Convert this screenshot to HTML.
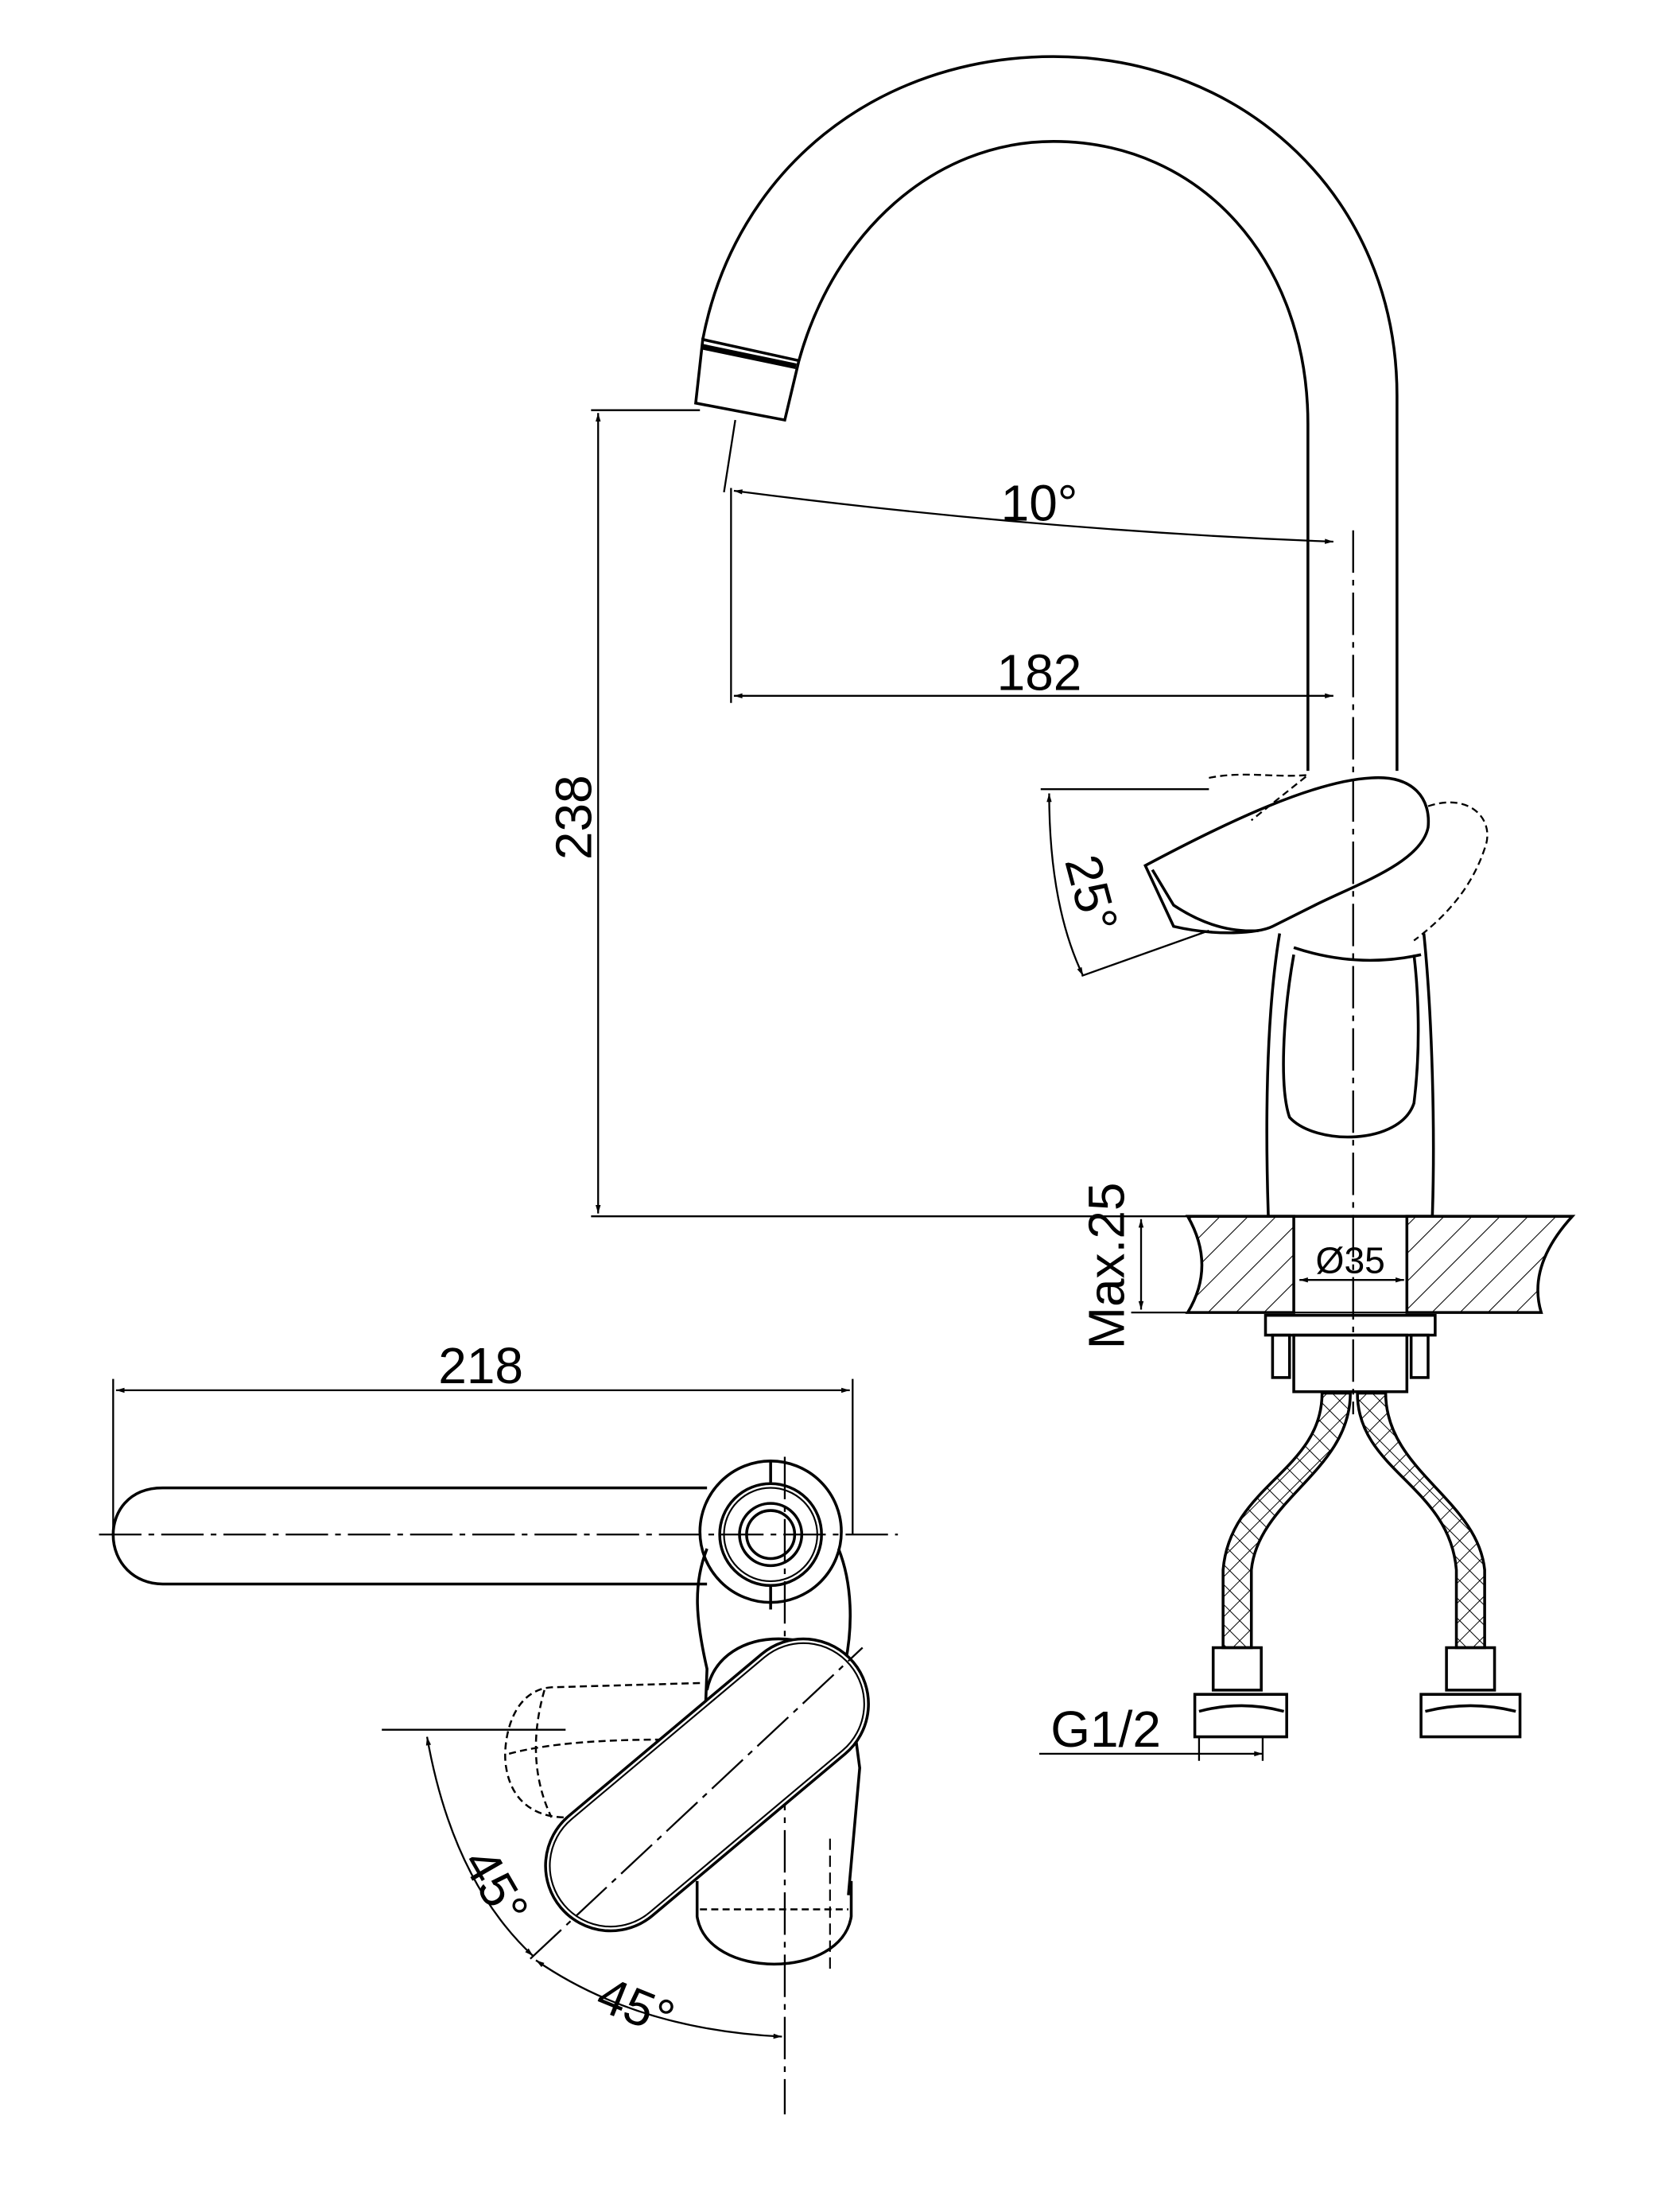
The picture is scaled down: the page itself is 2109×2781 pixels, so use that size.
<!DOCTYPE html>
<html><head><meta charset="utf-8"><style>html,body{margin:0;padding:0;background:#fff}svg{display:block}</style></head><body>
<svg width="2109" height="2781" viewBox="0 0 1186 1564" xmlns="http://www.w3.org/2000/svg" font-family="Liberation Sans, sans-serif">
<defs>
<pattern id="h" width="14" height="14" patternUnits="userSpaceOnUse" patternTransform="rotate(45)"><line x1="0" y1="0" x2="0" y2="14" stroke="#000" stroke-width="1.2"/></pattern>
<pattern id="x" width="10" height="10" patternUnits="userSpaceOnUse" patternTransform="rotate(45)"><path d="M0 0V10M0 0H10" stroke="#000" stroke-width="1.1"/></pattern>
<marker id="a" viewBox="0 0 10 10" refX="10" refY="5" markerWidth="10" markerHeight="6" orient="auto-start-reverse" markerUnits="userSpaceOnUse"><path d="M0 2L10 5L0 8z"/></marker>
</defs>
<g fill="none" stroke="#000" stroke-width="2">
<path d="M497 240 C520 120 620 40 745 40 C880 40 988 140 988 280 L988 545"/>
<path d="M565 255 C590 165 660 100 745 100 C850 100 925 185 925 300 L925 545"/>
<path d="M497 240 L565 255 L555 297 L492 285 Z"/>
<line x1="496" y1="245" x2="563" y2="259" stroke-width="4"/>
<g stroke-width="1.3">
<line x1="418" y1="290" x2="495" y2="290"/>
<line x1="418" y1="860" x2="840" y2="860"/>
<line x1="423" y1="292" x2="423" y2="858" marker-start="url(#a)" marker-end="url(#a)"/>
<line x1="520" y1="297" x2="512" y2="348"/>
<line x1="517" y1="345" x2="517" y2="497"/>
<path d="M519 347 Q735 375 943 383" marker-start="url(#a)" marker-end="url(#a)"/>
<line x1="519" y1="492" x2="943" y2="492" marker-start="url(#a)" marker-end="url(#a)"/>
<line x1="957" y1="375" x2="957" y2="1000" stroke-dasharray="30 5 4 5"/>
<line x1="736" y1="558" x2="855" y2="558"/>
<line x1="765" y1="690" x2="855" y2="658"/>
<path d="M742 561 Q742 640 766 690" marker-start="url(#a)" marker-end="url(#a)"/>
</g>
<path d="M905 660 C895 720 895 800 897 860 L1013 860 C1015 800 1013 720 1007 660"/>
<path d="M915 675 C907 720 905 770 912 790 C930 810 990 810 1000 780 C1005 740 1003 700 1000 675"/>
<path d="M915 670 Q960 685 1005 675"/>
<path d="M810 612 C870 580 930 552 970 550 C1000 548 1012 565 1010 585 C1005 610 960 625 930 640 L900 655 C890 660 860 662 830 655 Z"/>
<path d="M815 615 L830 640 Q860 660 890 658"/>
<path d="M1010 570 C1040 560 1058 580 1050 600 C1040 630 1020 650 1000 665" stroke-dasharray="5 3" stroke-width="1.3"/>
<path d="M855 550 C880 545 900 550 925 548 L885 580" stroke-dasharray="5 3" stroke-width="1.3"/>
<path d="M840 860 L915 860 L915 928 L840 928 Q860 895 840 860 Z" fill="url(#h)"/>
<path d="M995 860 L1112 860 Q1080 895 1090 928 L995 928 Z" fill="url(#h)"/>
<line x1="800" y1="928" x2="1090" y2="928" stroke-width="1.3"/>
<line x1="919" y1="905" x2="993" y2="905" stroke-width="1.3" marker-start="url(#a)" marker-end="url(#a)"/>
<line x1="807" y1="862" x2="807" y2="926" stroke-width="1.3" marker-start="url(#a)" marker-end="url(#a)"/>
<rect x="895" y="930" width="120" height="14"/>
<rect x="915" y="944" width="80" height="40"/>
<rect x="900" y="944" width="12" height="30"/><rect x="998" y="944" width="12" height="30"/>
<path d="M935 985 C935 1040 870 1050 865 1110 L865 1165 L885 1165 L885 1110 C890 1060 955 1040 955 985 Z" fill="url(#x)"/>
<path d="M960 985 C960 1040 1025 1050 1030 1110 L1030 1165 L1050 1165 L1050 1110 C1045 1060 980 1040 980 985 Z" fill="url(#x)"/>
<rect x="858" y="1165" width="34" height="30"/><rect x="1023" y="1165" width="34" height="30"/>
<path d="M845 1198 h65 v30 h-65 z M1005 1198 h70 v30 h-70 z"/>
<path d="M848 1210 q30 -8 60 0 M1008 1210 q32 -8 64 0"/>
<g stroke-width="1.3">
<line x1="735" y1="1240" x2="893" y2="1240" marker-end="url(#a)"/>
<line x1="848" y1="1228" x2="848" y2="1245"/><line x1="893" y1="1228" x2="893" y2="1245"/>
</g>
<g stroke-width="1.3">
<line x1="80" y1="975" x2="80" y2="1085"/><line x1="603" y1="975" x2="603" y2="1085"/>
<line x1="82" y1="983" x2="601" y2="983" marker-start="url(#a)" marker-end="url(#a)"/>
<line x1="70" y1="1085" x2="635" y2="1085" stroke-dasharray="30 5 4 5"/>
<line x1="555" y1="1030" x2="555" y2="1495" stroke-dasharray="30 5 4 5"/>
<line x1="270" y1="1223" x2="400" y2="1223"/>
<path d="M302 1228 Q320 1330 377 1383" marker-start="url(#a)" marker-end="url(#a)"/>
<path d="M379 1386 Q450 1435 553 1440" marker-start="url(#a)" marker-end="url(#a)"/>
</g>
<path d="M500 1052 L115 1052 C90 1052 80 1070 80 1085 C80 1105 95 1120 115 1120 L500 1120"/>
<circle cx="545" cy="1083" r="50"/>
<circle cx="545" cy="1085" r="36"/><circle cx="545" cy="1085" r="33" stroke-width="1.2"/>
<circle cx="545" cy="1085" r="22"/><circle cx="545" cy="1085" r="17"/>
<line x1="545" y1="1033" x2="545" y2="1048"/><line x1="545" y1="1120" x2="545" y2="1138"/>
<path d="M500 1095 C490 1120 492 1145 500 1180 L495 1310"/>
<path d="M593 1095 C603 1120 603 1150 598 1175 L608 1250 L600 1340"/>
<path d="M500 1195 C510 1145 590 1150 605 1190"/>
<path d="M493 1330 L493 1355 C500 1400 595 1400 602 1355 L602 1330"/>
<line x1="495" y1="1350" x2="600" y2="1350" stroke-dasharray="5 3" stroke-width="1.4"/>
<line x1="587" y1="1300" x2="587" y2="1395" stroke-dasharray="8 4" stroke-width="1.2"/>
<path d="M495 1190 L390 1193 C360 1195 355 1235 358 1250 C362 1275 380 1285 400 1285 L450 1283" stroke-dasharray="5 3" stroke-width="1.4"/>
<path d="M385 1195 C375 1230 378 1260 390 1285 M360 1240 C390 1232 430 1230 470 1230" stroke-dasharray="5 3" stroke-width="1.4"/>
<rect x="365" y="1216" width="270" height="92" rx="46" transform="rotate(-40 500 1262)" fill="#fff"/>
<rect x="368" y="1219" width="264" height="86" rx="43" transform="rotate(-40 500 1262)" stroke-width="1.2"/>
<line x1="375" y1="1385" x2="610" y2="1165" stroke-dasharray="30 5 4 5" stroke-width="1.3"/>
</g>
<g font-size="36" fill="#000">
<text x="735" y="368" text-anchor="middle">10°</text>
<text x="735" y="488" text-anchor="middle">182</text>
<text x="340" y="978" text-anchor="middle">218</text>
<text transform="translate(418,578) rotate(-90)" text-anchor="middle">238</text>
<text transform="translate(795,895) rotate(-90)" text-anchor="middle">Max.25</text>
<text transform="translate(760,635) rotate(75)" text-anchor="middle">25°</text>
<text transform="translate(340,1340) rotate(60)" text-anchor="middle">45°</text>
<text transform="translate(445,1430) rotate(22)" text-anchor="middle">45°</text>
<text x="782" y="1235" text-anchor="middle">G1/2</text>
<text x="955" y="900" text-anchor="middle" font-size="26">Ø35</text>
</g>
</svg>
</body></html>
